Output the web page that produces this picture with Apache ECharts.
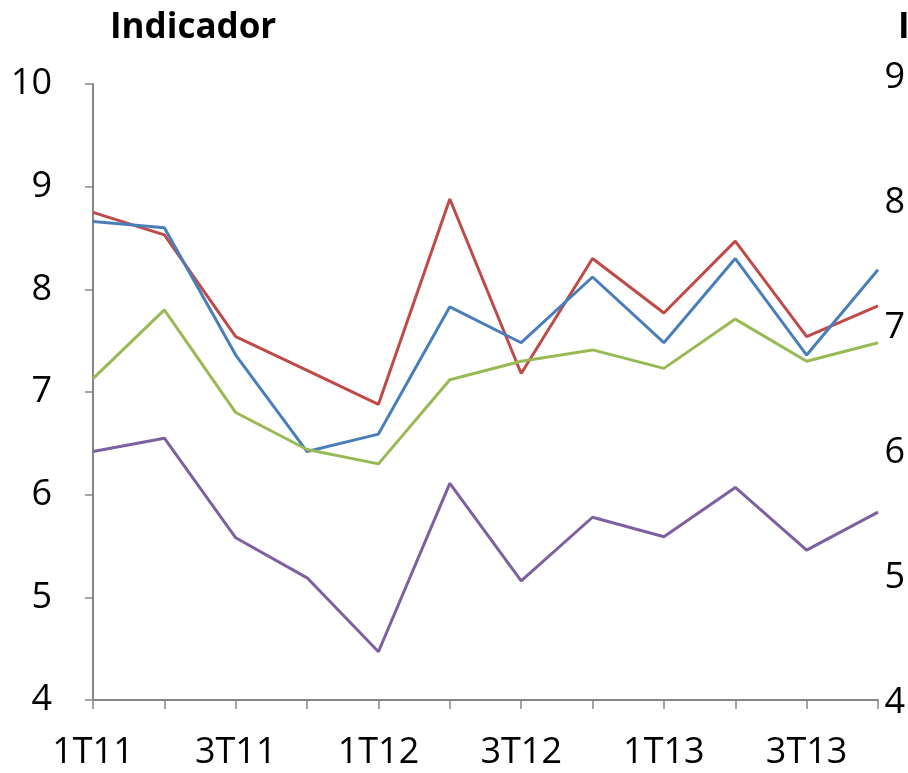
<!DOCTYPE html>
<html>
<head>
<meta charset="utf-8">
<script src="https://cdn.jsdelivr.net/npm/echarts@6/dist/echarts.min.js"></script>
<style>
  html, body { margin: 0; padding: 0; background: #fff; }
  #chart { width: 908px; height: 773px; }
</style>
</head>
<body>
<div id="chart"></div>
<script>
  // quarters
  var categories = ['1T11', '2T11', '3T11', '4T11', '1T12', '2T12', '3T12', '4T12', '1T13', '2T13', '3T13', '4T13'];
  var serieRojo = [8.75, 8.53, 7.54, 7.21, 6.88, 8.88, 7.18, 8.30, 7.77, 8.47, 7.54, 7.84];
  var serieAzul = [8.66, 8.60, 7.36, 6.42, 6.59, 7.83, 7.48, 8.12, 7.48, 8.30, 7.36, 8.19];
  var serieVerde = [7.13, 7.80, 6.80, 6.44, 6.30, 7.12, 7.30, 7.41, 7.23, 7.71, 7.30, 7.48];
  var serieMorada = [6.42, 6.55, 5.58, 5.19, 4.47, 6.11, 5.16, 5.78, 5.59, 6.07, 5.46, 5.83];
  var leftTicks = [4, 10, 1];   // min, max, interval
  var rightTicks = [4, 9, 1];

  var font = '"Open Sans", "Liberation Sans", sans-serif';
  var axisGray = '#868686';

  var myChart = echarts.init(document.getElementById('chart'));

  function linea(name, data, color) {
    return {
      name: name,
      type: 'line',
      data: data,
      symbol: 'none',
      animation: false,
      lineStyle: { color: color, width: 3 },
      itemStyle: { color: color }
    };
  }

  var option = {
    backgroundColor: '#fff',
    title: [
      {
        text: 'Indicador',
        left: 105,
        top: 6,
        textStyle: { fontFamily: font, fontWeight: 'bold', fontSize: 35, color: '#000' }
      },
      {
        text: 'Indicador',
        left: 893,
        top: 6,
        textStyle: { fontFamily: font, fontWeight: 'bold', fontSize: 35, color: '#000' }
      }
    ],
    grid: [
      { left: 93, right: 30, top: 84, bottom: 73 },
      { left: 93, right: 30, top: 78, bottom: 70 }
    ],
    xAxis: [
      {
        type: 'category',
        gridIndex: 0,
        data: categories,
        boundaryGap: false,
        axisLine: { lineStyle: { color: axisGray, width: 2 } },
        axisTick: { show: true, length: 9, interval: 0, lineStyle: { color: axisGray, width: 1.5 } },
        axisLabel: {
          interval: 1,
          margin: 35,
          color: '#000',
          fontFamily: font,
          fontSize: 36
        },
        splitLine: { show: false }
      },
      {
        type: 'category',
        gridIndex: 1,
        data: categories,
        boundaryGap: false,
        show: false
      }
    ],
    yAxis: [
      {
        type: 'value',
        gridIndex: 0,
        min: leftTicks[0],
        max: leftTicks[1],
        interval: leftTicks[2],
        axisLine: { show: true, lineStyle: { color: axisGray, width: 2 } },
        axisTick: { show: true, length: 8, lineStyle: { color: axisGray, width: 1.5 } },
        axisLabel: { margin: 41, color: '#000', fontFamily: font, fontSize: 36, align: 'right' },
        splitLine: { show: false }
      },
      {
        type: 'value',
        gridIndex: 1,
        position: 'right',
        min: rightTicks[0],
        max: rightTicks[1],
        interval: rightTicks[2],
        axisLine: { show: false },
        axisTick: { show: false },
        axisLabel: { margin: 10, color: '#000', fontFamily: font, fontSize: 36 },
        splitLine: { show: false }
      }
    ],
    series: [
      linea('Serie 1', serieRojo, '#be4b48'),
      linea('Serie 2', serieAzul, '#4a7ebb'),
      linea('Serie 3', serieVerde, '#98b954'),
      linea('Serie 4', serieMorada, '#7d60a0')
    ]
  };
  myChart.setOption(option);
</script>
</body>
</html>
